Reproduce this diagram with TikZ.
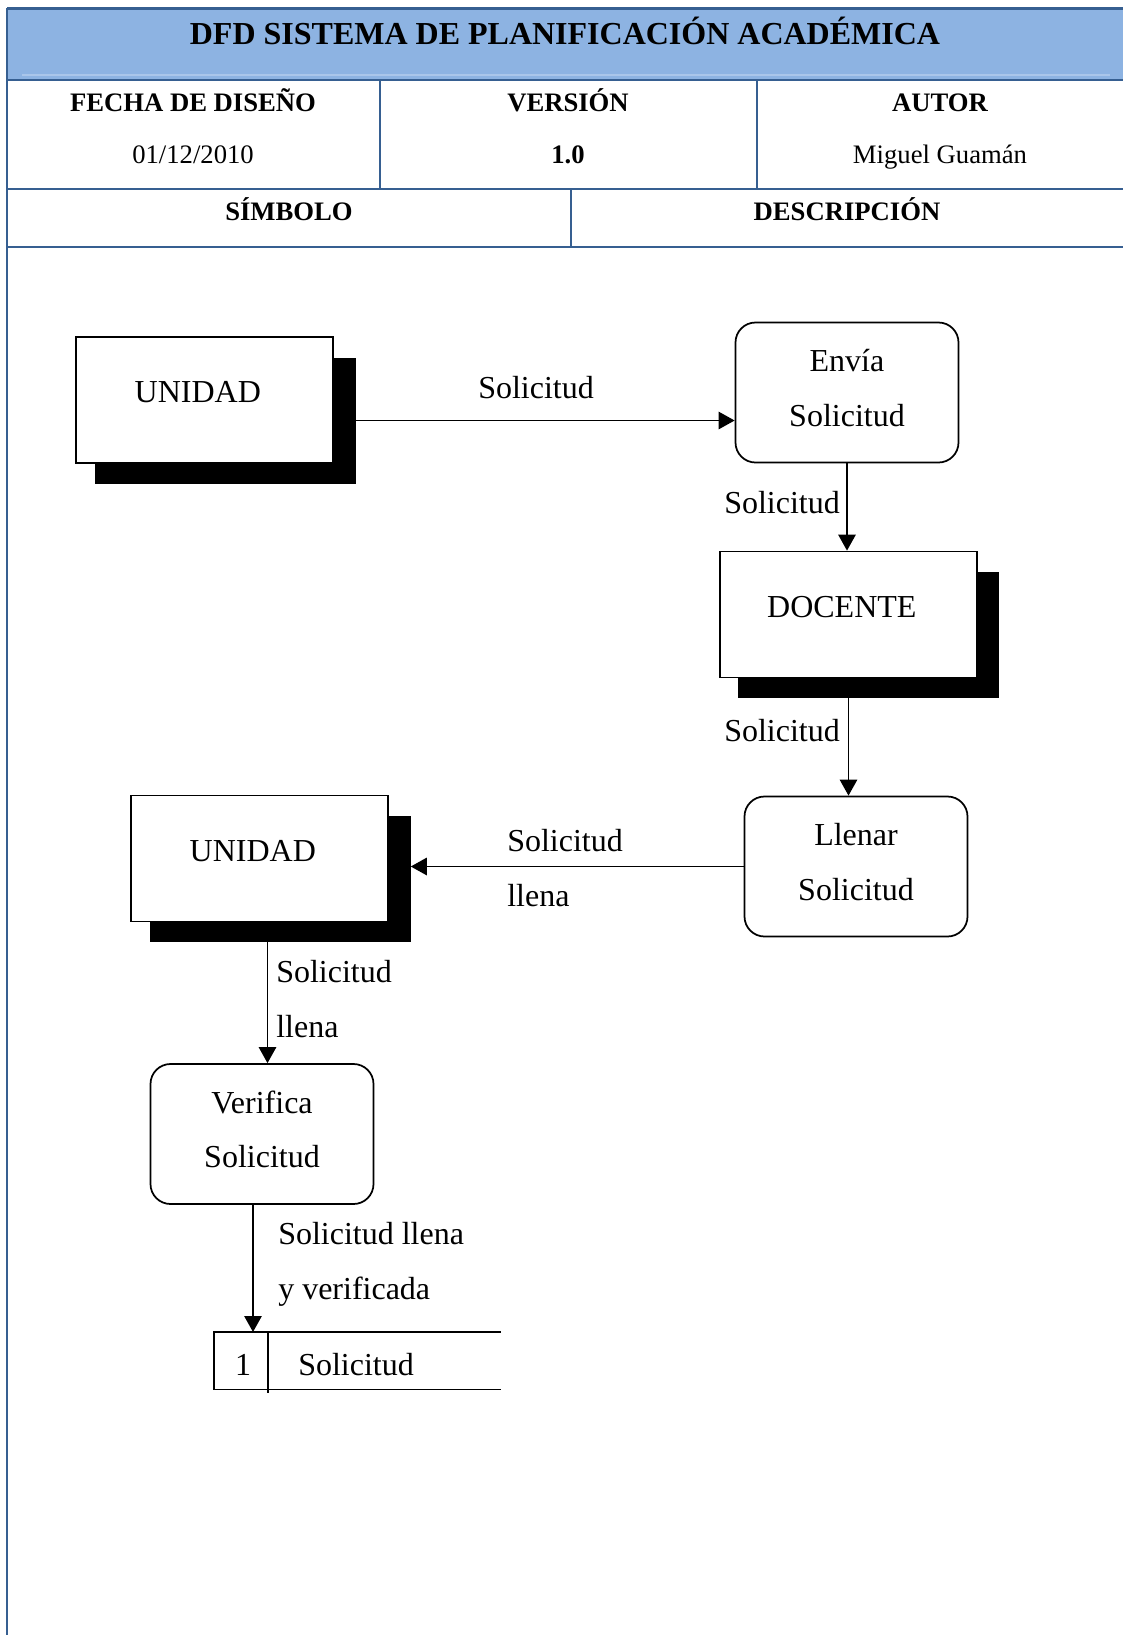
\documentclass[tikz,border=0pt]{standalone}
\usepackage{fontspec}
\setmainfont{Liberation Serif}
\usepackage{tikz}
\usetikzlibrary{shapes.geometric, arrows.meta, positioning}
\usepackage{xcolor}
\usetikzlibrary{calc}
\definecolor{hdrblue}{RGB}{141,179,226}
\definecolor{hdrline}{RGB}{54,95,145}
\definecolor{hdrfaint}{RGB}{170,198,234}

\begin{document}
\begin{tikzpicture}[x=0.75pt,y=-0.75pt]
            \tikzset{
                entity/.style={draw, fill=white, line width=1.3pt, minimum width=192.75pt, minimum height=94.5pt,
                    inner sep=0pt, font=\fontsize{24}{41}\selectfont, text height=16pt, text depth=12pt,
                    execute at end node={\hspace*{10pt}}},
                dropbox/.style={fill=black, minimum width=195.75pt, minimum height=94.5pt, inner sep=0pt},
                process/.style={draw, fill=white, rounded corners=15pt, line width=1.3pt, minimum width=167.25pt,
                    minimum height=105pt, align=center, font=\fontsize{24}{41}\selectfont,
                    execute at end node={\rule[-7pt]{0pt}{0pt}}},
                flow/.style={line width=1.3pt, -{Triangle[length=12pt,width=13pt]}},
                lbl/.style={anchor=base west, align=left, inner sep=0pt, font=\fontsize{24}{41}\selectfont},
                hdr/.style={anchor=base, inner sep=0pt, font=\bfseries\fontsize{20}{24}\selectfont},
                hdrval/.style={anchor=base, inner sep=0pt, font=\fontsize{20}{24}\selectfont},
                rule/.style={hdrline, line width=1.6pt}
            }

            \useasboundingbox (0,0) rectangle (1123,1635);

            \fill[hdrblue] (7,8.5) rectangle (1123,80);
            \draw[hdrfaint, line width=1pt] (22,75) -- (1110,75);
            \draw[rule] (7,8.5) -- (1123,8.5);
            \draw[rule] (7,80) -- (1123,80);
            \draw[rule] (7,189) -- (1123,189);
            \draw[rule] (7,247) -- (1123,247);
            \draw[rule] (380,80) -- (380,189);
            \draw[rule] (757,80) -- (757,189);
            \draw[rule] (571,189) -- (571,247);
            \draw[hdrline, line width=1.3pt] (7,7.7) -- (7,1635);

            \node[hdr, font=\bfseries\fontsize{24}{28}\selectfont] (title) at (565,44) {DFD SISTEMA DE PLANIFICACIÓN ACADÉMICA};
            \node[hdr] (fecha) at (193,111) {FECHA DE DISEÑO};
            \node[hdrval] (fechaval) at (193,163) {01/12/2010};
            \node[hdr] (version) at (568,111) {VERSIÓN};
            \node[hdr] (versionval) at (568,163) {1.0};
            \node[hdr] (autor) at (940,111) {AUTOR};
            \node[hdrval] (autorval) at (940,163) {Miguel Guamán};
            \node[hdr] (simbolo) at (289,220) {SÍMBOLO};
            \node[hdr] (descr) at (847,220) {DESCRIPCIÓN};

            \node[dropbox] (unidads) at (225.5,420.5) {};
            \node[entity] (unidad) at (204.5,400) {UNIDAD};
            \node[process] (envia) at (847,392.5) {Envía\\Solicitud};
            \node[dropbox] (docentes) at (868.5,635) {};
            \node[entity] (docente) at (848.5,614.5) {DOCENTE};
            \node[process] (llenar) at (856,866.5) {Llenar\\Solicitud};
            \node[dropbox] (unidad2s) at (280,879) {};
            \node[entity] (unidad2) at (259.5,858.5) {UNIDAD};
            \node[process] (verifica) at (262,1134) {Verifica\\Solicitud};
            \node[minimum width=214.5pt, minimum height=42.75pt, inner sep=0pt, anchor=north west] (store) at (214,1332) {};
            \node[lbl, anchor=base] (storeid) at (243,1375) {1};
            \node[lbl] (storename) at (298,1375) {Solicitud};

            \draw[flow] (unidads.east) -- (unidads.east -| envia.west);
            \draw[flow] (envia.south) -- (envia.south |- docente.north);
            \draw[flow] (docente.south |- docentes.south) -- (docente.south |- llenar.north);
            \draw[flow] (llenar.west) -- (llenar.west -| unidad2s.east);
            \draw[flow] ([xshift=6pt]unidad2.south |- unidad2s.south) -- ([xshift=6pt]unidad2.south |- verifica.north);
            \draw[flow] ([xshift=-6.75pt]verifica.south) -- ([xshift=-6.75pt]verifica.south |- store.north);
            \draw[line width=1.3pt] (store.north east) -- (store.north west) -- (store.south west) -- (store.south east);
            \draw[line width=1.3pt] ([xshift=40.5pt]store.north west) -- ([xshift=40.5pt,yshift=-2.25pt]store.south west);

            \node[lbl] (l1) at (478,398) {Solicitud};
            \node[lbl] (l2) at (724,513) {Solicitud};
            \node[lbl] (l3) at (724,741) {Solicitud};
            \node[lbl] (l4) at (507,906) {Solicitud\\llena};
            \node[lbl] (l5) at (276,1037) {Solicitud\\llena};
            \node[lbl] (l6) at (278,1299) {Solicitud llena\\y verificada};
\end{tikzpicture}
\end{document}
